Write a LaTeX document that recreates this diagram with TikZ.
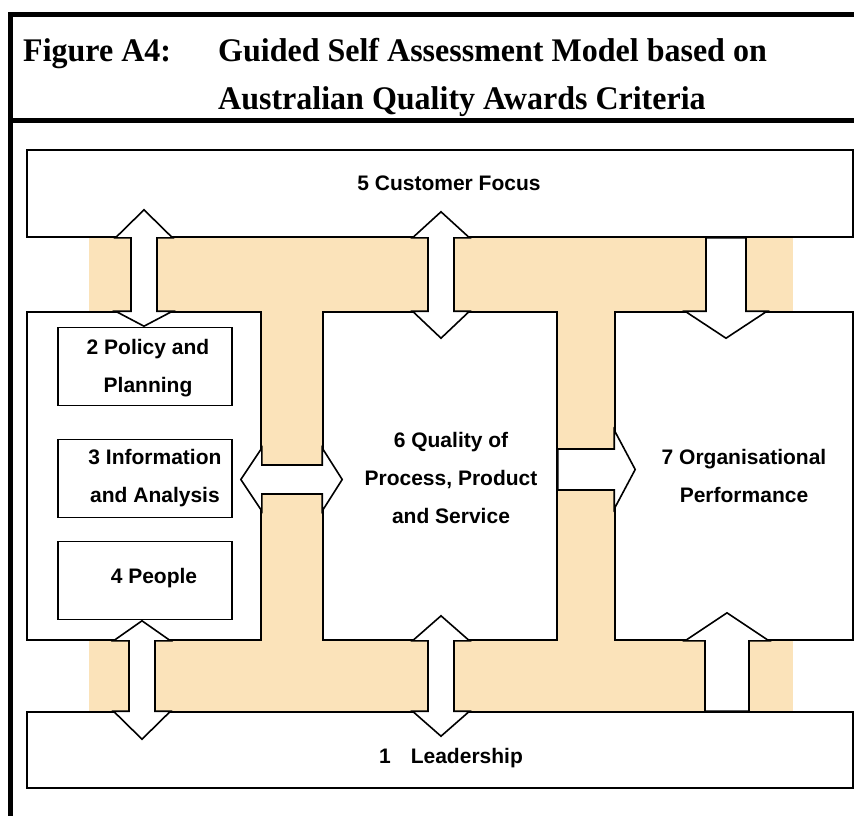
\documentclass[tikz,border=0pt]{standalone}
\usepackage{fontspec}
\setmainfont{Liberation Serif}
\newfontfamily\titlefont[FakeStretch=0.97]{Liberation Serif}
\newfontfamily\arialfont{Liberation Sans}
\usetikzlibrary{calc}
\definecolor{bandtan}{RGB}{251,227,186}

\tikzset{
  box/.style={draw, fill=white, line width=1.6pt, inner sep=0pt},
  lbl/.style={font=\arialfont\bfseries\fontsize{21}{38}\selectfont, align=center, inner sep=0pt, anchor=base},
  blk/.style={draw, fill=white, line width=1.6pt, line join=miter},
  frame/.style={line width=4.5pt},
  ttl/.style={font=\titlefont\bfseries\fontsize{33}{48}\selectfont, align=left, inner sep=0pt, anchor=base west}
}

\begin{document}
\begin{tikzpicture}[x=1pt,y=-1pt]
			\useasboundingbox (0,0) rectangle (854,816);

			% header
			\draw[frame] (854,14.5) -- (10.5,14.5) -- (10.5,816);
			\draw[frame] (10.5,120.5) -- (854,120.5);
			\node[ttl] (fig) at (23,62) {Figure A4:};
			% base of a multi-line node is its last line
			\node[ttl] (title) at (218,110) {Guided Self Assessment Model based on\\Australian Quality Awards Criteria};

			% tan band behind the boxes
			\fill[bandtan] (89,237) rectangle (793,712);

			\node[box, minimum width=826pt, minimum height=87pt] (customer) at (440,193.5) {};
			\node[box, minimum width=826pt, minimum height=76pt] (leader) at (440,750) {};
			\node[box, minimum width=234pt, minimum height=328pt] (lbox) at (144,476) {};
			\node[box, minimum width=234pt, minimum height=328pt] (qbox) at (440,476) {};
			\node[box, minimum width=238pt, minimum height=328pt] (obox) at (734,476) {};
			\foreach \nm/\y in {policy/366.5, info/478.5, people/580.5} {
				\node[box, minimum width=174pt, minimum height=78pt] (\nm) at (145,\y) {};
			}

			% vertical double arrows
			\foreach \ax/\up/\dn/\ta/\tb in {144/customer.south/lbox.north/28/15, 441/customer.south/qbox.north/26/27, 142/lbox.south/leader.north/20/28, 441/qbox.south/leader.north/25/25} {
				\draw[blk] let \p1=(\ax,0), \p2=(\up), \p3=(\dn) in
					(\x1-13pt,\y2) -- (\x1-28.5pt,\y2) -- (\x1,\y2+\ta*1pt) -- (\x1+28.5pt,\y2) -- (\x1+13pt,\y2)
					-- (\x1+13pt,\y3) -- (\x1+28.5pt,\y3) -- (\x1,\y3-\tb*1pt) -- (\x1-28.5pt,\y3) -- (\x1-13pt,\y3) -- cycle;
			}

			% single arrows into 7
			\draw[blk] let \p1=(726,0), \p2=(customer.south), \p3=(obox.north) in
				(\x1-20pt,\y2) -- (\x1+20pt,\y2) -- (\x1+20pt,\y3) -- (\x1+41pt,\y3) -- (\x1,\y3-27pt)
				-- (\x1-41pt,\y3) -- (\x1-20pt,\y3) -- cycle;
			\draw[blk] let \p1=(727,0), \p2=(leader.north), \p3=(obox.south) in
				(\x1-22pt,\y2) -- (\x1+22pt,\y2) -- (\x1+22pt,\y3) -- (\x1+42pt,\y3) -- (\x1,\y3+28pt)
				-- (\x1-42pt,\y3) -- (\x1-22pt,\y3) -- cycle;

			% horizontal arrows
			\draw[blk] let \p1=(0,479.5), \p2=(lbox.east), \p3=(qbox.west) in
				(\x2,\y1+14.5pt) -- (\x3,\y1+14.5pt) -- (\x3,\y1+31.5pt) -- (\x3+20pt,\y1) -- (\x3,\y1-31.5pt)
				-- (\x3,\y1-14.5pt) -- (\x2,\y1-14.5pt) -- (\x2,\y1-31.5pt) -- (\x2-21pt,\y1) -- (\x2,\y1+31.5pt) -- cycle;
			\draw[blk] let \p1=(0,469.5), \p2=(qbox.east), \p3=(obox.west) in
				(\x2,\y1+20.5pt) -- (\x3,\y1+20.5pt) -- (\x3,\y1+39.5pt) -- (\x3+21pt,\y1) -- (\x3,\y1-39.5pt)
				-- (\x3,\y1-20.5pt) -- (\x2,\y1-20.5pt) -- cycle;

			% labels
			\node[lbl] (customer-t) at (449,190) {5 Customer Focus};
			\node[lbl] (leader-t) at (451,763) {1\hspace{20pt}Leadership};
			\node[lbl] (policy-t) at (148,392) {2 Policy and\\Planning};
			\node[lbl] (info-t) at (155,502) {3 Information\\and Analysis};
			\node[lbl] (people-t) at (154,583) {4 People};
			\node[lbl] (qbox-t) at (451,523) {6 Quality of\\Process, Product\\and Service};
			\node[lbl] (obox-t) at (744,502) {7 Organisational\\Performance};
		\end{tikzpicture}
\end{document}
